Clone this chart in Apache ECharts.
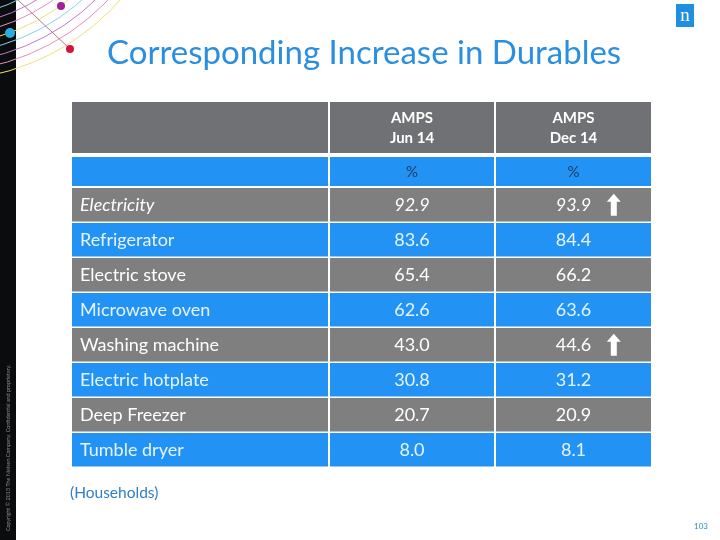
<!DOCTYPE html>
<html>
<head>
<meta charset="utf-8">
<script src="https://cdn.jsdelivr.net/npm/echarts@6/dist/echarts.min.js"></script>
<style>html,body{margin:0;padding:0;background:#fff}#c{width:720px;height:540px}</style>
</head>
<body>
<div id="c"></div>
<script>
const categories = ['Electricity','Refrigerator','Electric stove','Microwave oven','Washing machine','Electric hotplate','Deep Freezer','Tumble dryer'];
const jun14 = [92.9, 83.6, 65.4, 62.6, 43.0, 30.8, 20.7, 8.0];
const dec14 = [93.9, 84.4, 66.2, 63.6, 44.6, 31.2, 20.9, 8.1];
const increased = [1, 0, 0, 0, 1, 0, 0, 0];
const italicRows = ['Electricity'];
const columnHeaders = ['AMPS\nJun 14', 'AMPS\nDec 14'];
const unitLabels = ['%', '%'];
const titleText = 'Corresponding Increase in Durables';
const noteText = '(Households)';
const pageNumber = '103';
const copyrightText = 'Copyright © 2013 The Nielsen Company. Confidential and proprietary.';

const FONT = 'Lato';
const GRAY = '#7f7f7f', BLUE = '#2293f5', HEAD = '#707174';
const TW = 579, TL = 72;
const colEdges = [[0, 256], [258, 422], [424, 579]].map(e => [e[0] / TW, e[1] / TW]);

const rows = categories.map((c, i) => [i, jun14[i], dec14[i], increased[i]]);

function fmt(v) { return v.toFixed(1); }

const chart = echarts.init(document.getElementById('c'), null, {renderer: 'canvas'});

const graphics = [];
graphics.push({type: 'rect', shape: {x: 0, y: 0, width: 16, height: 540}, style: {fill: '#0b0c0d'}, z: 1});
const arcColors = ['#e58fc0', '#f0e07a', '#86d2ea', '#c07ad0', '#e58fc0', '#f0e07a', '#86d2ea', '#c07ad0', '#e58fc0', '#f0e07a'];
arcColors.forEach((col, k) => {
  graphics.push({type: 'arc', shape: {cx: -60, cy: -160, r: 160 + k * 9, startAngle: 0, endAngle: Math.PI / 2},
    style: {stroke: col, lineWidth: 1, fill: null}, z: 2});
});
graphics.push({type: 'line', shape: {x1: 18, y1: 0, x2: 70, y2: 49}, style: {stroke: '#b07a8a', lineWidth: 1}, z: 3});
graphics.push({type: 'circle', shape: {cx: 61, cy: 6, r: 4}, style: {fill: '#a4209c'}, z: 4});
graphics.push({type: 'circle', shape: {cx: 10, cy: 33, r: 5}, style: {fill: '#29aee4'}, z: 4});
graphics.push({type: 'circle', shape: {cx: 70, cy: 49, r: 4}, style: {fill: '#d4123e'}, z: 4});
graphics.push({type: 'text', x: 8, y: 531, rotation: Math.PI / 2,
  style: {text: copyrightText, fill: '#8a8a8a', font: '5.4px ' + FONT, align: 'left', verticalAlign: 'middle'}, z: 4});
graphics.push({type: 'rect', shape: {x: 676, y: 4, width: 18, height: 23}, style: {fill: '#1f8fe0'}, z: 4});
graphics.push({type: 'text', x: 685, y: 16, style: {text: 'n', fill: '#fff', font: '19px "Liberation Serif"', align: 'center', verticalAlign: 'middle'}, z: 5});
colEdges.forEach((e, j) => {
  const x = TL + e[0] * TW, w = (e[1] - e[0]) * TW;
  graphics.push({type: 'rect', shape: {x: x, y: 102, width: w, height: 51}, style: {fill: HEAD}, z: 4});
  graphics.push({type: 'rect', shape: {x: x, y: 157, width: w, height: 29}, style: {fill: BLUE}, z: 4});
  if (j > 0) {
    graphics.push({type: 'text', x: x + w / 2, y: 128, style: {text: columnHeaders[j - 1], fill: '#fff', font: 'bold 15px ' + FONT, lineHeight: 20, align: 'center', verticalAlign: 'middle'}, z: 5});
    graphics.push({type: 'text', x: x + w / 2, y: 172, style: {text: unitLabels[j - 1], fill: '#1d3a66', font: '15px ' + FONT, align: 'center', verticalAlign: 'middle'}, z: 5});
  }
});
graphics.push({type: 'text', x: 70, y: 493, style: {text: noteText, fill: '#2e7fc8', font: '15.5px ' + FONT, verticalAlign: 'middle'}, z: 5});
graphics.push({type: 'text', x: 708, y: 526, style: {text: pageNumber, fill: '#2a8fc0', font: '8px ' + FONT, align: 'right', verticalAlign: 'middle'}, z: 5});

const option = {
  animation: false,
  backgroundColor: '#ffffff',
  title: {text: titleText, left: 102, top: 32, textStyle: {fontFamily: FONT, fontSize: 33, fontWeight: 'normal', color: '#2a8fdf'}},
  graphic: graphics,
  grid: {left: TL, top: 188, width: TW, height: 280},
  xAxis: {type: 'value', min: 0, max: 1, show: false},
  yAxis: {type: 'category', data: categories, inverse: true, show: false},
  series: [{
    type: 'custom',
    data: rows,
    encode: {y: 0},
    renderItem: function (params, api) {
      const i = api.value(0);
      const c = api.coord([0, i]);
      const band = api.size([1, 1]);
      const W = band[0], H = band[1];
      const top = c[1] - H / 2;
      const ch = H - 1.5;
      const even = i % 2 === 0;
      const fill = even ? GRAY : BLUE;
      const txt = even ? '#ffffff' : '#e6f4ff';
      const ital = italicRows.indexOf(categories[i]) >= 0 ? 'italic ' : '';
      const children = [];
      colEdges.forEach((e, j) => {
        const x = c[0] + e[0] * W, w = (e[1] - e[0]) * W;
        children.push({type: 'rect', shape: {x: x, y: top, width: w, height: ch}, style: {fill: fill}});
        let label, tx, align;
        if (j === 0) { label = categories[i]; tx = x + 8; align = 'left'; }
        else { label = fmt(api.value(j)); tx = x + w / 2; align = 'center'; }
        children.push({type: 'text', x: tx, y: top + ch / 2, style: {text: label, fill: txt, font: ital + '18px ' + FONT, align: align, verticalAlign: 'middle'}});
        if (j === 2 && api.value(3)) {
          const ax = x + w * 0.76, ay = top + ch / 2;
          children.push({type: 'polygon', shape: {points: [
            [ax, ay - 11], [ax + 7, ay - 3], [ax + 3, ay - 3], [ax + 3, ay + 11], [ax - 3, ay + 11], [ax - 3, ay - 3], [ax - 7, ay - 3]
          ]}, style: {fill: '#ffffff'}});
        }
      });
      return {type: 'group', children: children};
    }
  }]
};
chart.setOption(option);
</script>
</body>
</html>
